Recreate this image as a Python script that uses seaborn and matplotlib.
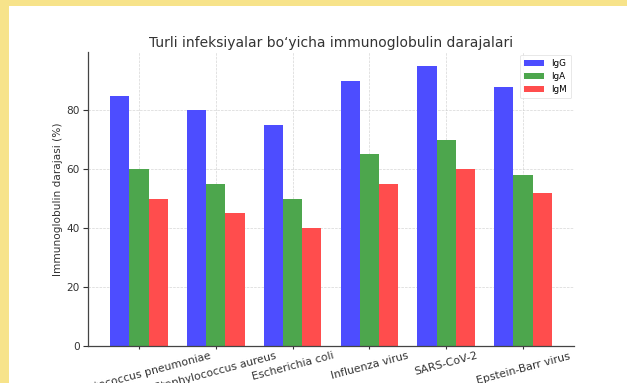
import matplotlib
matplotlib.use("Agg")
import matplotlib.pyplot as plt
from matplotlib.patches import Rectangle
import pandas as pd
import seaborn as sns

infections = ["Streptococcus pneumoniae", "Staphylococcus aureus", "Escherichia coli",
              "Influenza virus", "SARS-CoV-2", "Epstein-Barr virus"]
igg = [85, 80, 75, 90, 95, 88]
iga = [60, 55, 50, 65, 70, 58]
igm = [50, 45, 40, 55, 60, 52]
antibodies = ["IgG", "IgA", "IgM"]
colors = ["#4d4dff", "#4da64d", "#ff4d4d"]

df = pd.DataFrame({
    "Infeksiya": infections * 3,
    "Antitana": [a for a, vals in zip(antibodies, (igg, iga, igm)) for _ in vals],
    "Daraja": igg + iga + igm,
})

fig = plt.figure(figsize=(6.27, 3.83), dpi=100)
fig.patch.set_facecolor("white")
ax = fig.add_axes([0.1404, 0.0966, 0.775, 0.7674])

sns.barplot(data=df, x="Infeksiya", y="Daraja", hue="Antitana",
            palette=colors, saturation=1, width=0.75, ax=ax,
            edgecolor="none", errorbar=None)

ax.set_xlim(-0.6625, 5.6625)
ax.set_ylim(0, 99.75)
ax.set_yticks([0, 20, 40, 60, 80])
ax.set_xlabel("")
ax.set_ylabel("Immunoglobulin darajasi (%)", fontsize=7.6, color="#333333", labelpad=2)
ax.set_title("Turli infeksiyalar bo\u2018yicha immunoglobulin darajalari",
             fontsize=10, color="#333333", pad=4)
ax.tick_params(axis="y", labelsize=7.6, colors="#333333", length=3.5, pad=2.5)
ax.tick_params(axis="x", labelsize=7.8, colors="#333333", length=2.5, pad=1)
plt.setp(ax.get_xticklabels(), rotation=15, ha="center")
ax.grid(True, linestyle="--", linewidth=0.5, color="#cccccc", alpha=0.8)
ax.set_axisbelow(True)
for side in ("top", "right"):
    ax.spines[side].set_visible(False)
for side in ("left", "bottom"):
    ax.spines[side].set_color("#444444")
    ax.spines[side].set_linewidth(0.9)

leg = ax.legend(loc="upper right", fontsize=6.3, frameon=True, handlelength=2.3,
                borderpad=0.5, labelspacing=0.45, borderaxespad=0.3, title=None)
leg.get_frame().set_edgecolor("#dddddd")
leg.get_frame().set_linewidth(0.6)

# pale yellow frame along the top and left edges
yellow = "#f7e38a"
fig.patches.append(Rectangle((0, 1 - 6 / 383), 1, 6 / 383, transform=fig.transFigure,
                             facecolor=yellow, edgecolor="none", zorder=10))
fig.patches.append(Rectangle((0, 0), 9 / 627, 1, transform=fig.transFigure,
                             facecolor=yellow, edgecolor="none", zorder=10))

fig.savefig("out.png", dpi=100)
